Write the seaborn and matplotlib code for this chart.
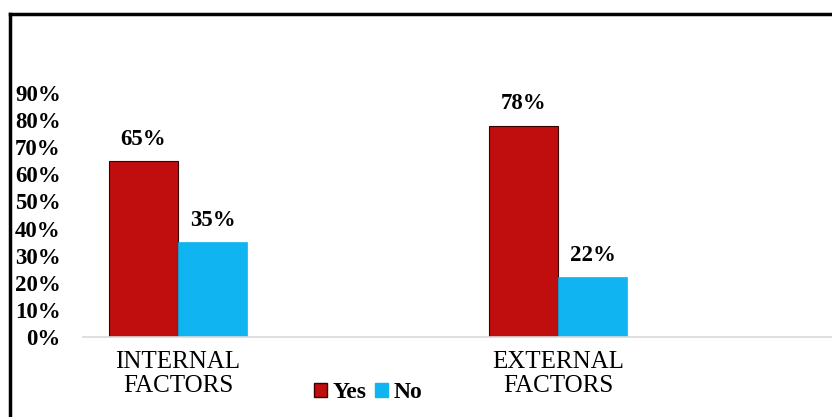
import matplotlib
matplotlib.use("Agg")
import matplotlib.pyplot as plt
import matplotlib.patches as mpatches
from matplotlib.lines import Line2D
import seaborn as sns
import pandas as pd

categories = ["INTERNAL\nFACTORS", "EXTERNAL\nFACTORS"]
series_names = ["Yes", "No"]
yes_values = [0.65, 0.78]
no_values = [0.35, 0.22]
yticks = [0, 0.1, 0.2, 0.3, 0.4, 0.5, 0.6, 0.7, 0.8, 0.9]
colors = {"Yes": "#C00D0D", "No": "#10B4F0"}

rows = []
for c, y, n in zip(categories, yes_values, no_values):
    rows.append({"factor": c, "response": "Yes", "value": y})
    rows.append({"factor": c, "response": "No", "value": n})
df = pd.DataFrame(rows)

sns.set_style("white")
plt.rcParams["font.family"] = ["Liberation Serif", "DejaVu Serif"]
plt.rcParams["text.color"] = "black"
plt.rcParams["xtick.color"] = "black"
plt.rcParams["ytick.color"] = "black"
plt.rcParams["xtick.labelcolor"] = "black"
plt.rcParams["ytick.labelcolor"] = "black"

fig = plt.figure(figsize=(8.32, 4.17), dpi=100)
W, H = 832, 417
ax = fig.add_axes([83 / W, (H - 337) / H, (832 - 83) / W, (337 - 93) / H])

sns.barplot(data=df, x="factor", y="value", hue="response", palette=colors,
            order=categories, hue_order=series_names, width=0.363,
            saturation=1, ax=ax, legend=False)

for cont, name in zip(ax.containers, series_names):
    for bar in cont:
        if name == "Yes":
            bar.set_edgecolor("#3a0000")
            bar.set_linewidth(0.8)
        else:
            bar.set_edgecolor("#10B4F0")
            bar.set_linewidth(0.5)
    ax.bar_label(cont, labels=[f"{v*100:.0f}%" for v in cont.datavalues],
                 padding=8, fontsize=16.5, fontweight="bold", color="black")

ax.set_xlim(-0.25, 1.72)
ax.set_ylim(0, 0.9)
ax.set_yticks(yticks)
ax.set_yticklabels([f"{t*100:.0f}%" for t in yticks], fontsize=16.5, fontweight="bold")
ax.tick_params(axis="y", length=0, pad=16)
ax.tick_params(axis="x", length=0, pad=10, labelsize=18)
for lbl in ax.get_xticklabels():
    lbl.set_linespacing(1.12)
    lbl.set_fontweight("normal")
ax.set_xlabel("")
ax.set_ylabel("")
for s in ["top", "right", "left"]:
    ax.spines[s].set_visible(False)
ax.spines["bottom"].set_color("#D9D9D9")
ax.spines["bottom"].set_linewidth(1.2)
ax.grid(False)

handles = [mpatches.Patch(facecolor=colors["Yes"], edgecolor="#3a0000", label="Yes"),
           mpatches.Patch(facecolor=colors["No"], edgecolor=colors["No"], label="No")]
fig.legend(handles=handles, loc="center", bbox_to_anchor=(368 / W, 1 - 393 / H),
           ncol=2, frameon=False, handlelength=0.55, handleheight=0.55,
           handletextpad=0.25, columnspacing=0.35, borderpad=0,
           prop={"family": "Liberation Serif", "weight": "bold", "size": 17})

# outer frame (top and left edges visible)
fig.add_artist(Line2D([10 / W, 1.0], [1 - 14 / H, 1 - 14 / H], transform=fig.transFigure,
                      color="black", linewidth=2.5, solid_capstyle="projecting"))
fig.add_artist(Line2D([10 / W, 10 / W], [1 - 14 / H, 0], transform=fig.transFigure,
                      color="black", linewidth=2.5, solid_capstyle="projecting"))

fig.savefig("out.png", dpi=100)
